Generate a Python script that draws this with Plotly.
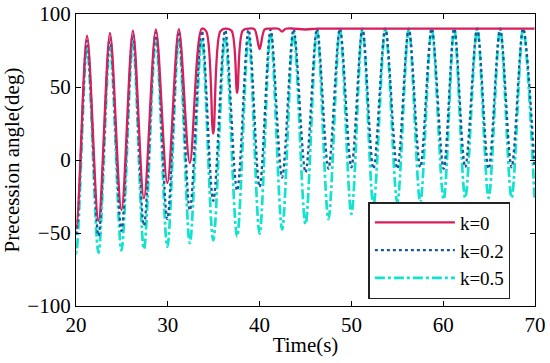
import plotly.graph_objects as go

# Extremum times (s)
trough_t = [20.0, 22.45, 24.95, 27.4, 29.95, 32.4, 34.95, 37.55, 40.0, 42.45, 45.0,
            47.5, 50.0, 52.4, 55.0, 57.5, 60.05, 62.4, 64.95, 67.45, 69.95]
peak_t = [18.75, 21.2, 23.7, 26.2, 28.7, 31.2, 33.7, 36.25, 38.8, 41.2, 43.7,
          46.25, 48.75, 51.2, 53.7, 56.25, 58.75, 61.2, 63.7, 66.2, 68.7]

# k = 0
k0_trough = [-47, -41.6, -34.2, -26.3, -15.8, -2, 18, 46, 76, 88, 89.4,
             90, 90, 90, 90, 90, 90, 90, 90, 90, 90]
k0_peak = [84, 85.1, 87, 88.6, 89.5, 89.7, 89.9, 90, 90, 90, 90,
           90, 90, 90, 90, 90, 90, 90, 90, 90, 90]
k0_shoulder_t = [34.2, 35.7, 36.95, 38.15, 39.45, 40.55, 42.05, 42.85]
k0_shoulder_v = [88, 88, 88.5, 88.5, 89.5, 89.5, 89.9, 89.9]

# k = 0.2
k02_trough = [-51, -52, -48.5, -45, -40.5, -34.5, -28, -21, -18.5, -12, -8.5,
              -6, -5, -6, -6, -5, -6, -5, -6, -5, -5]
k02_peak = [80, 81.7, 83.5, 85.8, 87.4, 88, 88.6, 89, 89.2, 89.4, 89.6,
            89.8, 90, 90, 90, 90, 90, 90, 90, 90, 90]

# k = 0.5
k05_trough = [-64, -63.5, -62, -61, -59.5, -57, -55, -52.5, -50.5, -47.5, -44,
              -40.5, -37, -31, -29, -29, -27, -26, -26, -26, -26]
k05_peak = [75, 77, 78, 80.6, 83, 83, 83.5, 84, 84.5, 86.3, 87.5,
            88.6, 89.3, 89.7, 90, 90, 90, 90, 90, 90, 90]

x_ticks = [20, 30, 40, 50, 60, 70]
y_ticks = [-100, -50, 0, 50, 100]


def merge(tp, vp, tt, vt, ts=(), vs=()):
    pts = list(zip(tp, vp)) + list(zip(tt, vt)) + list(zip(ts, vs))
    pts.sort()
    return [p[0] for p in pts], [p[1] for p in pts]


x0, y0 = merge(peak_t, k0_peak, trough_t, k0_trough, k0_shoulder_t, k0_shoulder_v)
x1, y1 = merge(peak_t, k02_peak, trough_t, k02_trough)
x2, y2 = merge(peak_t, k05_peak, trough_t, k05_trough)

FONT = "Liberation Serif"
fig = go.Figure()
fig.add_trace(go.Scatter(x=x2, y=y2, mode="lines", name="k=0.5", legendrank=3,
                         line=dict(color="#12E2CF", width=2.7, dash="10px,3px,3px,3px",
                                   shape="spline", smoothing=0.9)))
fig.add_trace(go.Scatter(x=x1, y=y1, mode="lines", name="k=0.2", legendrank=2,
                         line=dict(color="#16589A", width=2.3, dash="dot",
                                   shape="spline", smoothing=0.9)))
fig.add_trace(go.Scatter(x=x0, y=y0, mode="lines", name="k=0", legendrank=1,
                         line=dict(color="#D81E5B", width=2.3,
                                   shape="spline", smoothing=0.9)))

axis_common = dict(showline=True, linecolor="black", linewidth=1.3, mirror="ticks",
                   ticks="inside", ticklen=5, tickwidth=1.2, tickcolor="black",
                   showgrid=False, zeroline=False, automargin=False,
                   tickfont=dict(family=FONT, size=21, color="black"))
fig.update_xaxes(range=[20, 70], tickvals=x_ticks,
                 title=dict(text="Time(s)", font=dict(family=FONT, size=21, color="black"),
                            standoff=0),
                 **axis_common)
fig.update_yaxes(range=[-100, 100], tickvals=y_ticks,
                 title=dict(text="Precession angle(deg)",
                            font=dict(family=FONT, size=21, color="black"), standoff=2),
                 **axis_common)

fig.update_layout(
    width=550, height=363,
    margin=dict(l=75.5, r=15, t=13.7, b=57.3, autoexpand=False),
    plot_bgcolor="white", paper_bgcolor="white",
    showlegend=True,
    legend=dict(x=0.637, y=0.356, xanchor="left", yanchor="top",
                bgcolor="white", bordercolor="#222", borderwidth=1.5,
                font=dict(family=FONT, size=19, color="black"),
                itemwidth=80, tracegroupgap=0),
)

# remove the default 8px page margin so the figure sits at the window's corner
fig.write_html("out.html", config={"displayModeBar": False},
               post_script="document.body.style.margin='0';")
